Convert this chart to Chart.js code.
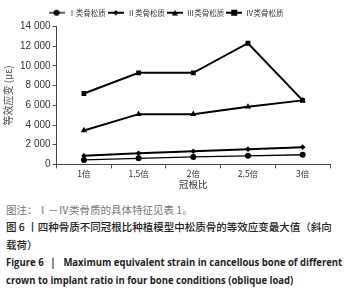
<!DOCTYPE html>
<html><head><meta charset="utf-8">
<script src="https://cdn.jsdelivr.net/npm/chart.js@4"></script>
<style>
html,body{margin:0;padding:0;background:#fff;width:351px;height:292px;overflow:hidden;}
#wrap{position:absolute;left:0;top:0;width:351px;height:190px;}
.cap{position:absolute;left:6px;font-family:"Noto Sans CJK SC","Noto Sans",sans-serif;font-size:10.5px;line-height:17px;white-space:nowrap;color:#222;}
.en{font-weight:bold;font-family:"Open Sans","Liberation Sans",sans-serif;font-size:10.5px;transform:scaleX(0.905);transform-origin:0 0;}
</style></head>
<body>
<div id="wrap"><canvas id="c"></canvas></div>
<div class="cap" style="top:201px;color:#777;">图注：Ⅰ－Ⅳ类骨质的具体特征见表 1。</div>
<div class="cap" style="top:218px;font-weight:500;">图 6 丨四种骨质不同冠根比种植模型中松质骨的等效应变最大值（斜向</div>
<div class="cap" style="top:236px;font-weight:500;">载荷）</div>
<div class="cap en" style="top:254px;">Figure 6 &nbsp;｜ &nbsp;Maximum equivalent strain in cancellous bone of different</div>
<div class="cap en" style="top:272px;">crown to implant ratio in four bone conditions (oblique load)</div>
<script>
const categories = ["1倍","1.5倍","2倍","2.5倍","3倍"];
const seriesNames = ["Ⅰ类骨松质","Ⅱ类骨松质","Ⅲ类骨松质","Ⅳ类骨松质"];
const boneI   = [450, 620, 760, 870, 980];
const boneII  = [880, 1120, 1330, 1550, 1750];
const boneIII = [3450, 5100, 5100, 5850, 6500];
const boneIV  = [7200, 9300, 9300, 12300, 6500];
const yTicks = [0,2000,4000,6000,8000,10000,12000,14000];

const styles = [
  {pt:'circle', r:3, lw:1.3},
  {pt:'rectRot', r:2.8, lw:2},
  {pt:'triangle', r:3.6, lw:2},
  {pt:'rect', r:3.4, lw:2}
];
const allData = [boneI, boneII, boneIII, boneIV];

function legendIcon(s){
  const cv = document.createElement('canvas');
  cv.width = 16; cv.height = 8;
  const g = cv.getContext('2d');
  g.strokeStyle = '#000'; g.lineWidth = s.lw;
  g.beginPath(); g.moveTo(0,4); g.lineTo(16,4); g.stroke();
  g.fillStyle = '#000';
  const r = Math.min(s.r,3), cx = 8, cy = 4;
  g.beginPath();
  if (s.pt==='circle'){ g.arc(cx,cy,r,0,Math.PI*2); }
  else if (s.pt==='rectRot'){ g.moveTo(cx,cy-r);g.lineTo(cx+r,cy);g.lineTo(cx,cy+r);g.lineTo(cx-r,cy);g.closePath(); }
  else if (s.pt==='triangle'){ g.moveTo(cx,cy-r);g.lineTo(cx+r,cy+r*0.9);g.lineTo(cx-r,cy+r*0.9);g.closePath(); }
  else { g.rect(cx-r,cy-r,2*r,2*r); }
  g.fill();
  return cv;
}

const datasets = seriesNames.map((n,i)=>({
  label: n,
  data: allData[i],
  borderColor: '#000',
  backgroundColor: '#000',
  borderWidth: styles[i].lw,
  pointStyle: styles[i].pt,
  pointRadius: styles[i].r,
  pointBackgroundColor: '#000',
  pointBorderColor: '#000',
  pointBorderWidth: 0,
  tension: 0,
  fill: false
}));

new Chart(document.getElementById('c'), {
  type: 'line',
  data: { labels: categories, datasets },
  options: {
    responsive: true, maintainAspectRatio: false, animation: false,
    layout: { padding: { left: 2, right: 21, top: 7, bottom: 0 } },
    plugins: {
      tooltip: { enabled: false },
      legend: {
        position: 'top',
        labels: {
          usePointStyle: true,
          pointStyleWidth: 16,
          boxHeight: 8,
          padding: 2,
          color: '#333',
          font: { family: '"Noto Sans CJK SC", sans-serif', size: 7.5 },
          generateLabels: (chart) => chart.data.datasets.map((d,i)=>({
            text: d.label, pointStyle: legendIcon(styles[i]),
            fillStyle:'#000', strokeStyle:'#000', lineWidth:0, datasetIndex:i, hidden:false, fontColor:'#333'
          }))
        }
      }
    },
    scales: {
      x: {
        offset: true,
        grid: { display: true, drawOnChartArea: false, offset: true, color: '#555', tickLength: 4 },
        border: { color: '#444', width: 1 },
        ticks: { color: '#333', font: { family: '"Noto Sans CJK SC", sans-serif', size: 8.5 }, padding: 0 },
        title: { display: true, text: '冠根比', color: '#333', font: { family: '"Noto Sans CJK SC", sans-serif', size: 9.5 }, padding: {top: 0, bottom: 0} }
      },
      y: {
        min: 0, max: 14000,
        afterBuildTicks: (ax) => { ax.ticks = yTicks.map(v=>({value:v})); },
        grid: { display: true, drawOnChartArea: false, color: '#555', tickLength: 4 },
        border: { color: '#444', width: 1 },
        ticks: {
          color: '#333', padding: 2,
          font: { family: '"Liberation Sans", Arial, sans-serif', size: 10 },
          callback: (v) => v >= 1000 ? Math.floor(v/1000) + ' ' + String(v%1000).padStart(3,'0') : String(v)
        },
        title: { display: true, text: '等效应变 (με)', color: '#555', font: { family: '"Noto Sans CJK SC", sans-serif', size: 10 }, padding: {top:0, bottom: 4} }
      }
    }
  }
});
</script>
</body></html>
